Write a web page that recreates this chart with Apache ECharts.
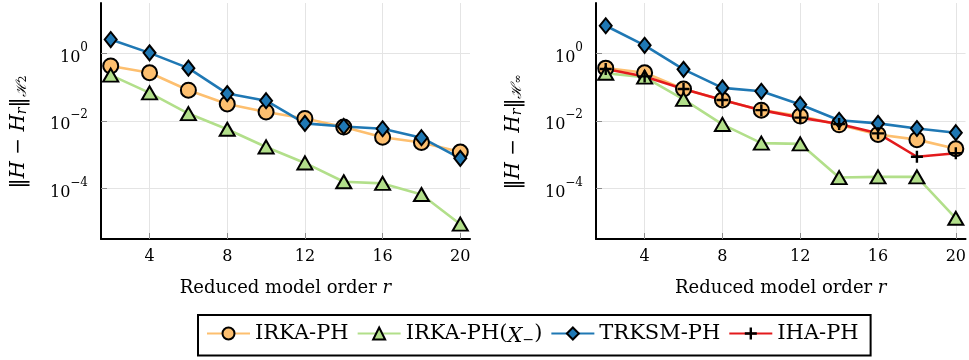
<!DOCTYPE html>
<html>
<head>
<meta charset="utf-8">
<script src="https://cdn.jsdelivr.net/npm/echarts@6/dist/echarts.min.js"></script>
<style>
  html, body { margin: 0; padding: 0; background: #fff; }
  #chart { width: 969px; height: 360px; }
</style>
</head>
<body>
<div id="chart"></div>
<script>
// reduced model orders r
const orders = [2, 4, 6, 8, 10, 12, 14, 16, 18, 20];

// H2 error (left panel)
const h2IrkaPH = [0.43, 0.27, 0.082, 0.032, 0.0186, 0.0119, 0.0066, 0.0033, 0.0023, 0.0012];
const h2IrkaPHX = [0.23, 0.068, 0.0166, 0.0057, 0.0017, 0.00057, 0.000158, 0.000141, 0.000066, 0.0000087];
const h2TrksmPH = [2.6, 1.05, 0.37, 0.065, 0.04, 0.0085, 0.0069, 0.0059, 0.0032, 0.00078];

// H-infinity error (right panel)
const hinfIrkaPH = [0.37, 0.27, 0.089, 0.042, 0.021, 0.014, 0.0077, 0.004, 0.0028, 0.0015];
const hinfIrkaPHX = [0.26, 0.2, 0.044, 0.0079, 0.0022, 0.0021, 0.00021, 0.00022, 0.00022, 0.000013];
const hinfTrksmPH = [6.7, 1.76, 0.34, 0.096, 0.076, 0.031, 0.0105, 0.0085, 0.006, 0.0045];
const hinfIhaPH = [0.35, 0.21, 0.089, 0.042, 0.021, 0.0126, 0.0081, 0.0043, 0.00087, 0.0011];

// tick positions
const xTicks = [4, 8, 12, 16, 20];
const yTicks = [1, 0.01, 0.0001];

const chart = echarts.init(document.getElementById("chart"));

const FONT = "DejaVu Serif";
const gridColor = "#e4e4e4";
const tickStyle = { show: true, inside: true, length: 6, lineStyle: { color: "#8c8c8c", width: 1 } };

// couleurs (palette Paired)
const cOrange = "#fdbf6f";
const cGreen = "#b2df8a";
const cBlue = "#1f78b4";
const cRed = "#e31a1c";

const plusPath = "path://M4,0H6V4H10V6H6V10H4V6H0V4H4Z";

const pairs = (vals) => orders.map((r, i) => [r, vals[i]]);

const yLabel = (sub) => ({
  name: "{n|‖}{i|H}{n| − }{i|H}{s|r}{n|‖}{s|ℋ}{ss|" + sub + "}",
  nameLocation: "middle",
  nameGap: 72,
  nameRotate: 90,
  nameTextStyle: {
    padding: [0, 22, 0, 0],
    rich: {
      n: { fontFamily: FONT, fontSize: 20, color: "#000", lineHeight: 28, verticalAlign: "bottom" },
      i: { fontFamily: FONT, fontSize: 20, fontStyle: "italic", color: "#000", lineHeight: 28, verticalAlign: "bottom" },
      s: { fontFamily: FONT, fontSize: 14, fontStyle: "italic", color: "#000", lineHeight: 14, verticalAlign: "bottom" },
      ss: { fontFamily: FONT, fontSize: 11, color: "#000", lineHeight: 9, verticalAlign: "bottom" },
    },
  },
});

const makeY = (gridIndex, sub) => Object.assign({
  type: "log",
  gridIndex: gridIndex,
  logBase: 10,
  min: Math.pow(10, -5.5),
  max: Math.pow(10, 1.5),
  axisLine: { show: true, lineStyle: { color: "#000", width: 2 } },
  axisTick: Object.assign({ customValues: yTicks }, tickStyle),
  splitLine: { show: true, lineStyle: { color: gridColor, width: 1 } },
  axisLabel: {
    margin: 13,
    customValues: yTicks,
    formatter: (v) => {
      const e = Math.round(Math.log10(v));
      return "{b|10}{p|" + (e < 0 ? "−" + (-e) : e) + "}";
    },
    rich: {
      b: { fontFamily: FONT, fontSize: 16, color: "#000", lineHeight: 24, verticalAlign: "bottom" },
      p: { fontFamily: FONT, fontSize: 12, color: "#000", lineHeight: 12, verticalAlign: "top" },
    },
  },
}, yLabel(sub));

const makeX = (gridIndex) => ({
  type: "value",
  gridIndex: gridIndex,
  min: 1.5,
  max: 20.5,
  name: "Reduced model order {i|r}",
  nameLocation: "middle",
  nameGap: 40,
  nameTextStyle: {
    fontFamily: FONT, fontSize: 18, color: "#000",
    rich: { i: { fontFamily: FONT, fontSize: 18, fontStyle: "italic", color: "#000" } },
  },
  axisLine: { show: true, lineStyle: { color: "#000", width: 2 } },
  axisTick: Object.assign({ customValues: xTicks }, tickStyle),
  splitLine: { show: true, lineStyle: { color: gridColor, width: 1 } },
  axisLabel: {
    margin: 10,
    fontFamily: FONT, fontSize: 16, color: "#000",
    customValues: xTicks,
  },
});

const lineSeries = (name, idx, vals, color, symbol, size, fill) => ({
  name: name,
  type: "line",
  xAxisIndex: idx,
  yAxisIndex: idx,
  data: pairs(vals),
  symbol: symbol,
  symbolSize: size,
  showAllSymbol: true,
  lineStyle: { color: color, width: 2.6 },
  itemStyle: { color: fill, borderColor: "#000", borderWidth: symbol === plusPath ? 0 : 2 },
  emphasis: { disabled: true },
  animation: false,
});

const series = [];
[
  [0, h2IrkaPH, h2IrkaPHX, h2TrksmPH, null],
  [1, hinfIrkaPH, hinfIrkaPHX, hinfTrksmPH, hinfIhaPH],
].forEach(([idx, irka, irkax, trksm, iha]) => {
  series.push(lineSeries("IRKA-PH", idx, irka, cOrange, "circle", 15, cOrange));
  series.push(lineSeries("IRKA-PH(X−)", idx, irkax, cGreen, "triangle", [15, 13], cGreen));
  series.push(lineSeries("TRKSM-PH", idx, trksm, cBlue, "diamond", [12, 15], cBlue));
  if (iha) series.push(lineSeries("IHA-PH", idx, iha, cRed, plusPath, 12, "#000"));
});

const options = {
  animation: false,
  grid: [
    { left: 101, top: 3, width: 369, height: 236 },
    { left: 596, top: 3, width: 370, height: 236 },
  ],
  xAxis: [makeX(0), makeX(1)],
  yAxis: [makeY(0, "2"), makeY(1, "∞")],
  legend: {
    left: 198,
    top: 315,
    data: ["IRKA-PH", "IRKA-PH(X−)", "TRKSM-PH", "IHA-PH"],
    itemWidth: 43,
    itemHeight: 15,
    itemGap: 8,
    padding: [8, 12, 8, 8],
    borderColor: "#000",
    borderWidth: 2,
    borderRadius: 0,
    formatter: (n) => (n === "IRKA-PH(X−)" ? "IRKA-PH({i|X}{s|−})" : n),
    textStyle: {
      fontFamily: FONT, fontSize: 21, color: "#000",
      rich: {
        i: { fontFamily: FONT, fontSize: 21, fontStyle: "italic", color: "#000", lineHeight: 28, verticalAlign: "bottom" },
        s: { fontFamily: FONT, fontSize: 14, color: "#000", lineHeight: 12, verticalAlign: "bottom" },
      },
    },
  },
  series: series,
};

chart.setOption(options);
</script>
</body>
</html>
